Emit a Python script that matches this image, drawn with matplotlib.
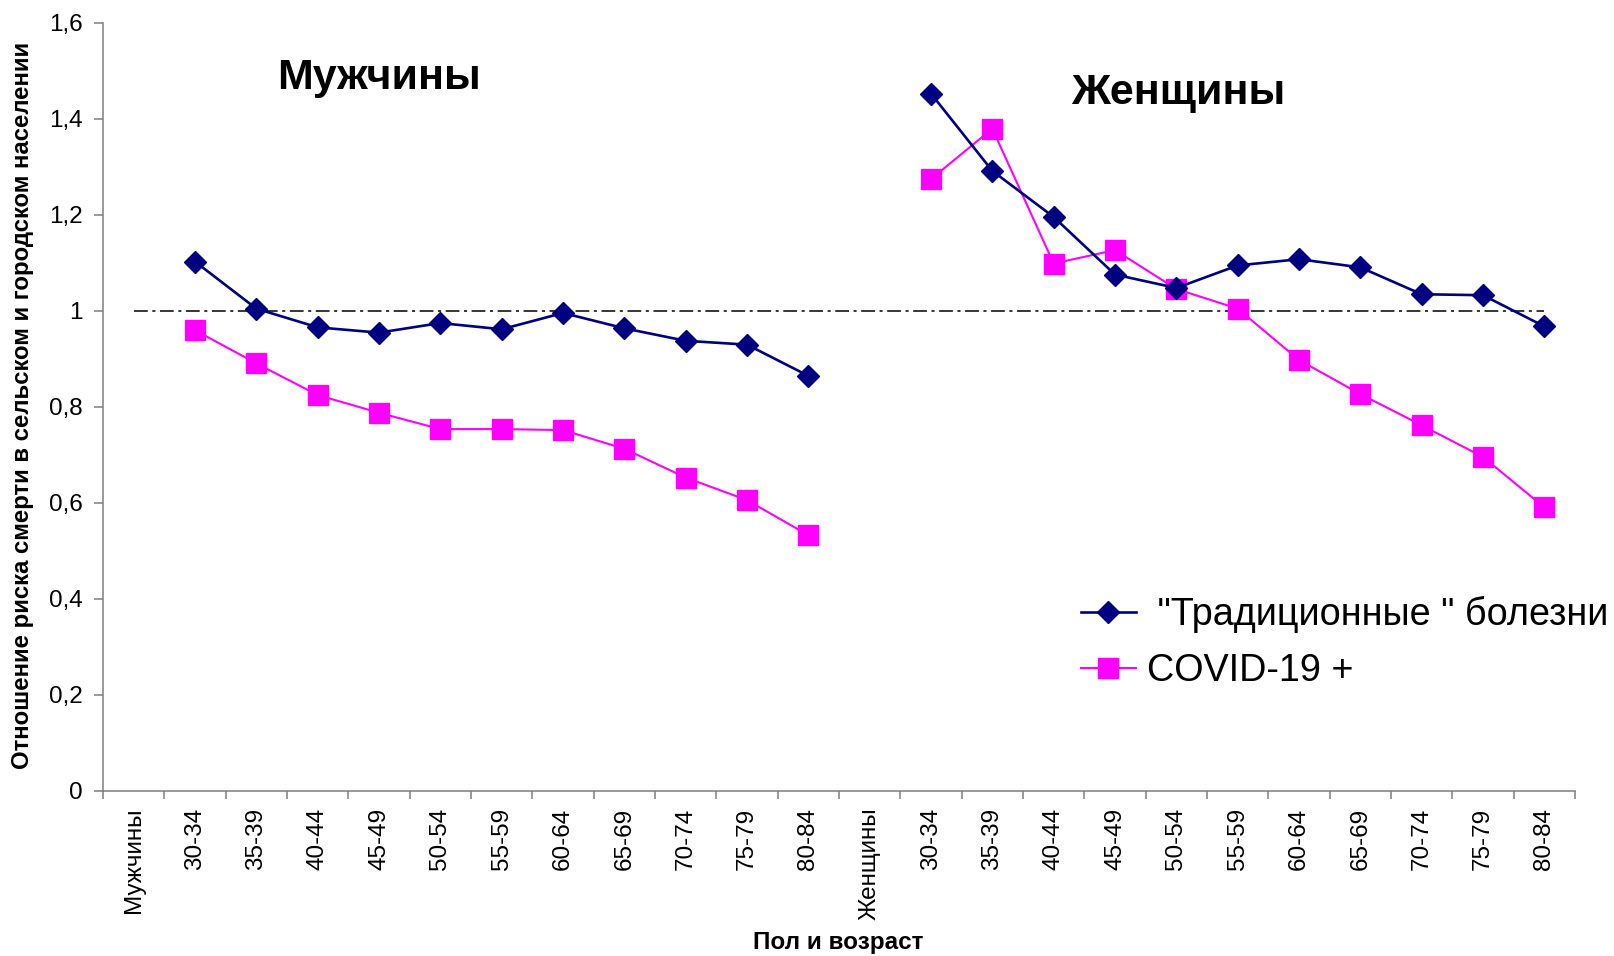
import numpy as np
import matplotlib
matplotlib.use('Agg')
import matplotlib.pyplot as plt

plt.rcParams['font.family'] = ['Liberation Sans', 'DejaVu Sans']

ages = ['30-34', '35-39', '40-44', '45-49', '50-54', '55-59',
        '60-64', '65-69', '70-74', '75-79', '80-84']
groups = ['Мужчины', 'Женщины']
men_trad = [1.102, 1.004, 0.965, 0.954, 0.974, 0.961, 0.995, 0.963, 0.937, 0.929, 0.864]
men_covid = [0.959, 0.890, 0.824, 0.787, 0.753, 0.753, 0.751, 0.712, 0.652, 0.605, 0.532]
women_trad = [1.452, 1.291, 1.195, 1.075, 1.047, 1.094, 1.107, 1.090, 1.034, 1.032, 0.967]
women_covid = [1.274, 1.379, 1.098, 1.126, 1.045, 1.004, 0.897, 0.826, 0.761, 0.695, 0.590]
reference_level = 1.0
yticks = [0, 0.2, 0.4, 0.6, 0.8, 1.0, 1.2, 1.4, 1.6]
ytick_labels = ['0', '0,2', '0,4', '0,6', '0,8', '1', '1,2', '1,4', '1,6']

categories = [groups[0]] + ages + [groups[1]] + ages
trad = [np.nan] + men_trad + [np.nan] + women_trad
covid = [np.nan] + men_covid + [np.nan] + women_covid
x = np.arange(len(categories))

W, H = 1614, 956
fig = plt.figure(figsize=(W / 100, H / 100), dpi=100)
ax = fig.add_axes([103 / W, 1 - 790.5 / H, (1575 - 103) / W, (790.5 - 22.6) / H])

ref_line, = ax.plot(x, [reference_level] * len(x), color='black', lw=1.1,
                    zorder=1)
ref_line.set_dashes([9, 3, 2, 3])
l1, = ax.plot(x, trad, color='#000080', lw=1.9, marker='D', markersize=11,
              label=' "Традиционные " болезни', zorder=3)
l2, = ax.plot(x, covid, color='#FF00FF', lw=1.5, marker='s', markersize=14.5,
              label='COVID-19 +', zorder=2)

ax.set_xlim(-0.5, len(x) - 0.5)
ax.set_ylim(0, 1.6)
ax.set_yticks(yticks)
ax.set_yticklabels(ytick_labels, fontsize=17.5)
ax.set_xticks(np.arange(-0.5, len(x), 1))
ax.set_xticklabels([])
ax.set_xticks(x, minor=True)
ax.set_xticklabels(categories, minor=True, rotation=90, fontsize=17.5, va='top')
ax.tick_params(axis='x', which='major', length=6, width=1.1, color='#7f7f7f', direction='out')
ax.tick_params(axis='x', which='minor', length=0, pad=12.5)
ax.tick_params(axis='y', length=6.5, width=1.1, color='#7f7f7f', direction='out', pad=8)
for s in ['top', 'right']:
    ax.spines[s].set_visible(False)
for s in ['left', 'bottom']:
    ax.spines[s].set_color('#7f7f7f')
    ax.spines[s].set_linewidth(1.1)

fig.text(22.6 / W, 1 - 405.6 / H,
         'Отношение риска смерти в сельском и городском населении',
         rotation=90, ha='center', va='center', fontsize=17.3, fontweight='bold')
fig.text(838 / W, 1 - 943 / H, 'Пол и возраст', ha='center', va='center',
         fontsize=17.5, fontweight='bold',
         family=['Liberation Sans Narrow', 'Liberation Sans', 'DejaVu Sans'])

ax.text(379 / W, 1 - 78 / H, 'Мужчины', transform=fig.transFigure,
        ha='center', va='center', fontsize=31, fontweight='bold')
ax.text(1178.6 / W, 1 - 92.6 / H, 'Женщины', transform=fig.transFigure,
        ha='center', va='center', fontsize=31, fontweight='bold')

leg = ax.legend(handles=[l1, l2], loc='upper left',
                bbox_to_anchor=(1081 / W, 1 - 596 / H),
                bbox_transform=fig.transFigure, frameon=False,
                fontsize=27.2, handlelength=1.45, handletextpad=0.3,
                borderpad=0, borderaxespad=0, labelspacing=0.54)

fig.savefig('out.png', dpi=100)
